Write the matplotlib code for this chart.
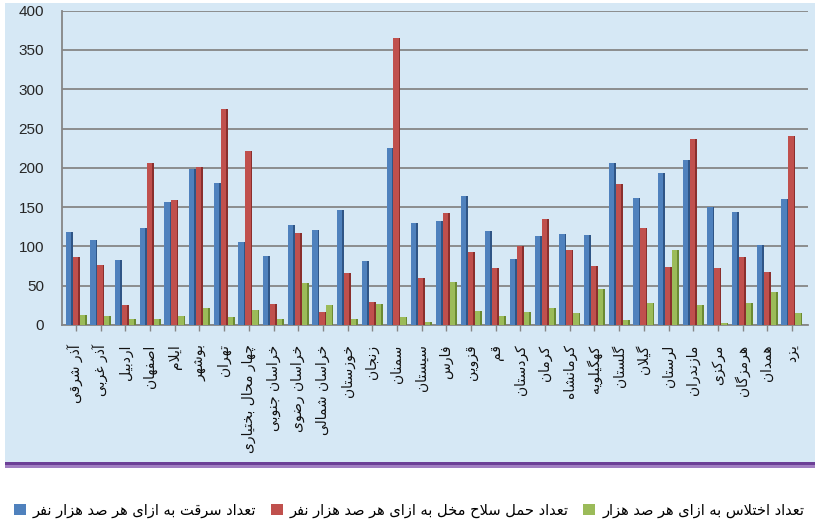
import numpy as np
import matplotlib
matplotlib.use("Agg")
import matplotlib.pyplot as plt
from matplotlib.patches import Rectangle, Patch

# استان‌ها و شاخص‌ها به ازای هر صد هزار نفر
provinces = ["آذر شرقی", "آذر غربی", "اردبیل", "اصفهان", "ایلام", "بوشهر",
             "تهران", "چهار محال بختیاری", "خراسان جنوبی", "خراسان رضوی",
             "خراسان شمالی", "خوزستان", "زنجان", "سمنان", "سیستان", "فارس",
             "قزوین", "قم", "کردستان", "کرمان", "کرمانشاه", "کهگیلویه",
             "گلستان", "گیلان", "لرستان", "مازندران", "مرکزی", "هرمزگان",
             "همدان", "یزد"]
theft = [118, 108, 83, 124, 156, 199, 181, 106, 88, 127, 121, 146, 81, 225, 130,
         132, 164, 120, 84, 113, 116, 114, 206, 161, 194, 210, 150, 144, 102, 160]
carrying = [87, 76, 25, 206, 159, 201, 275, 222, 27, 117, 17, 66, 29, 365, 60,
            142, 93, 72, 101, 135, 96, 75, 180, 124, 74, 237, 72, 87, 67, 240]
third = [13, 11, 7, 7, 11, 21, 10, 19, 7, 53, 25, 7, 27, 10, 4,
         55, 18, 11, 17, 21, 15, 46, 6, 28, 95, 26, 3, 28, 42, 15]
series_names = ["تعداد سرقت به ازای هر صد هزار نفر",
                "تعداد حمل سلاح مخل به ازای هر صد هزار نفر",
                "تعداد اختلاس به ازای هر صد هزار"]
y_ticks = list(range(0, 401, 50))

# matplotlib حروف عربی را نمی‌چسباند؛ شکل‌های نمایشی را خودمان انتخاب می‌کنیم
# (تنها، پایانی، آغازی، میانی) — حروف دوشکلی به حرف بعد نمی‌چسبند
FORMS = {
    "ا": "\uFE8D\uFE8E", "آ": "\uFE81\uFE82",
    "ب": "\uFE8F\uFE90\uFE91\uFE92", "پ": "\uFB56\uFB57\uFB58\uFB59",
    "ت": "\uFE95\uFE96\uFE97\uFE98", "ث": "\uFE99\uFE9A\uFE9B\uFE9C",
    "ج": "\uFE9D\uFE9E\uFE9F\uFEA0", "چ": "\uFB7A\uFB7B\uFB7C\uFB7D",
    "ح": "\uFEA1\uFEA2\uFEA3\uFEA4", "خ": "\uFEA5\uFEA6\uFEA7\uFEA8",
    "د": "\uFEA9\uFEAA", "ذ": "\uFEAB\uFEAC", "ر": "\uFEAD\uFEAE",
    "ز": "\uFEAF\uFEB0", "ژ": "\uFB8A\uFB8B",
    "س": "\uFEB1\uFEB2\uFEB3\uFEB4", "ش": "\uFEB5\uFEB6\uFEB7\uFEB8",
    "ص": "\uFEB9\uFEBA\uFEBB\uFEBC", "ض": "\uFEBD\uFEBE\uFEBF\uFEC0",
    "ط": "\uFEC1\uFEC2\uFEC3\uFEC4", "ظ": "\uFEC5\uFEC6\uFEC7\uFEC8",
    "ع": "\uFEC9\uFECA\uFECB\uFECC", "غ": "\uFECD\uFECE\uFECF\uFED0",
    "ف": "\uFED1\uFED2\uFED3\uFED4", "ق": "\uFED5\uFED6\uFED7\uFED8",
    "ک": "\uFB8E\uFB8F\uFB90\uFB91", "گ": "\uFB92\uFB93\uFB94\uFB95",
    "ل": "\uFEDD\uFEDE\uFEDF\uFEE0", "م": "\uFEE1\uFEE2\uFEE3\uFEE4",
    "ن": "\uFEE5\uFEE6\uFEE7\uFEE8", "ه": "\uFEE9\uFEEA\uFEEB\uFEEC",
    "و": "\uFEED\uFEEE", "ی": "\uFBFC\uFBFD\uFBFE\uFBFF",
}
LAM_ALEF = {"ا": "\uFEFB\uFEFC", "آ": "\uFEF5\uFEF6"}


def joins_next(c):
    return c in FORMS and len(FORMS[c]) == 4


def shape(text):
    """Return a right-to-left string in visual order with joined letters."""
    out = []
    prev = None
    i = 0
    while i < len(text):
        c = text[i]
        if c not in FORMS:
            out.append(c)
            prev = None
            i += 1
            continue
        after_prev = prev is not None and joins_next(prev)
        nxt = text[i + 1] if i + 1 < len(text) else None
        if c == "ل" and nxt in LAM_ALEF:
            lig = LAM_ALEF[nxt]
            out.append(lig[1] if after_prev else lig[0])
            prev = nxt
            i += 2
            continue
        to_next = joins_next(c) and nxt in FORMS
        f = FORMS[c]
        if after_prev and to_next:
            g = f[3]
        elif after_prev:
            g = f[1]
        elif to_next:
            g = f[2]
        else:
            g = f[0]
        out.append(g)
        prev = c
        i += 1
    return "".join(reversed(out))


W, H = 815, 521
fig = plt.figure(figsize=(W / 100, H / 100), dpi=100)
fig.patch.set_facecolor("white")

# زمینه آبی نمودار و نوار بنفش پایین آن
for (y0, h, col) in [(462, 459, "#d6e8f5"), (465, 3, "#6c3f96"), (468, 3, "#a17fc2")]:
    fig.patches.append(Rectangle((5 / W, 1 - y0 / H), 810 / W, h / H,
                                 transform=fig.transFigure, facecolor=col,
                                 edgecolor="none", zorder=-10))

ax = fig.add_axes([62 / W, 1 - 325 / H, 746 / W, 314.3 / H])
ax.set_facecolor("none")

x = np.arange(len(provinces))
step = 0.283
colors = [("#4f81bd", "#2f5586"), ("#c0504d", "#8a2f2d"), ("#9bbb59", "#6b8a32")]
for k, (vals, (face, side)) in enumerate(zip([theft, carrying, third], colors)):
    off = (k - 1) * step
    # رویه جلویی ستون و لبه تیره‌تر سمت راست برای حالت سه‌بعدی
    ax.bar(x + off - 0.035, vals, width=0.213, color=face, zorder=3)
    ax.bar(x + off + 0.106, vals, width=0.07, color=side, zorder=3)

ax.set_xlim(-0.57, 29.65)
ax.set_ylim(0, 400)
ax.set_yticks(y_ticks)
ax.yaxis.grid(True, color="#868686", lw=1.3)
ax.set_axisbelow(True)
for s in ["top", "right"]:
    ax.spines[s].set_visible(False)
ax.spines["left"].set_color("#868686")
ax.spines["left"].set_linewidth(1.3)
ax.spines["bottom"].set_color("#868686")
ax.spines["bottom"].set_linewidth(1.3)

ax.tick_params(axis="y", length=0, pad=13, labelsize=11, labelcolor="#262626")
for lab in ax.get_yticklabels():
    lab.set_family("Liberation Sans")

ax.set_xticks(x)
ax.set_xticklabels([shape(p) for p in provinces], rotation=90, fontsize=10,
                   family="DejaVu Sans", color="#111111")
ax.tick_params(axis="x", length=4, width=1, color="#868686", pad=10)

handles = [Patch(facecolor=c[0], edgecolor="none") for c in colors]
fig.legend(handles, [shape(n) for n in series_names], loc="center left",
           bbox_to_anchor=(8 / W, 1 - 510 / H), ncol=3, frameon=False,
           handlelength=0.8, handleheight=0.8, handletextpad=0.5,
           columnspacing=1.0, borderaxespad=0,
           prop={"family": "DejaVu Sans", "size": 10.5})

fig.savefig("out.png", dpi=100)
